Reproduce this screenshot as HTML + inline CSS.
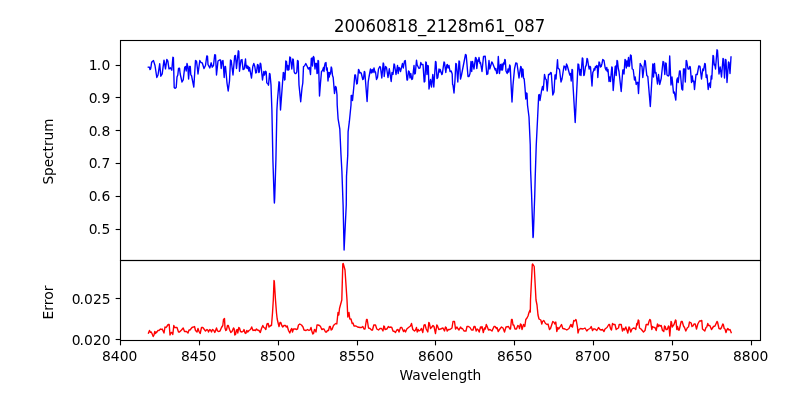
<!DOCTYPE html>
<html><head><meta charset="utf-8"><title>20060818_2128m61_087</title>
<style>
html,body{margin:0;padding:0;background:#fff;}
svg{display:block;}
text{font-family:"DejaVu Sans","Liberation Sans",sans-serif;fill:#000;}
.t{font-size:13.89px;}
.ti{font-size:16.67px;}
.sp{stroke:#000;stroke-width:1.11;fill:none;stroke-linecap:square;}
.tk{stroke:#000;stroke-width:1.11;}
</style></head><body>
<svg width="800" height="400" viewBox="0 0 800 400">
<rect width="800" height="400" fill="#fff"/>
<text class="ti" transform="translate(333.95,32.1) scale(1,1.08)" textLength="211.3" lengthAdjust="spacingAndGlyphs">20060818_2128m61_087</text>
<clipPath id="c1"><rect x="120.5" y="40.5" width="640.0" height="220.0"/></clipPath>
<clipPath id="c2"><rect x="120.5" y="260.5" width="640.0" height="80.0"/></clipPath>
<polyline clip-path="url(#c1)" points="148.30,67.20 149.50,67.30 150.00,69.60 150.60,69.00 151.00,66.80 151.60,62.50 152.30,61.50 153.50,60.60 155.00,65.50 156.80,77.50 158.00,75.00 159.70,63.80 160.80,76.20 162.20,73.80 164.00,60.20 165.50,68.80 166.80,59.50 167.80,60.80 169.00,68.80 170.50,67.80 171.80,70.20 172.90,57.30 173.40,57.60 174.20,87.50 175.00,88.30 176.20,87.50 177.00,77.00 177.80,75.00 178.50,68.50 179.50,68.20 180.20,74.00 182.00,82.00 183.20,80.00 184.70,67.50 185.50,66.50 186.20,71.00 187.00,63.50 187.80,66.50 188.60,79.00 189.50,66.50 190.30,66.50 190.80,75.00 191.50,75.50 193.80,87.00 195.50,60.50 196.50,61.00 197.20,66.50 198.00,74.00 199.80,60.50 201.00,62.50 202.20,62.80 204.00,68.50 205.50,65.50 206.80,56.00 207.50,56.20 208.00,64.50 209.80,68.00 211.20,62.80 212.20,67.20 213.50,65.50 214.70,54.80 215.50,55.00 216.50,75.00 218.00,61.00 219.50,60.00 220.50,60.00 221.20,68.50 222.20,61.00 223.00,60.50 224.20,77.50 225.00,66.50 225.50,66.50 227.00,83.00 228.20,91.00 229.50,81.00 230.50,60.00 231.20,60.50 233.00,75.00 234.70,55.80 235.50,55.50 236.50,68.50 238.30,50.80 238.80,51.50 239.50,71.20 241.00,60.00 242.00,59.50 243.00,69.50 244.20,69.00 245.50,59.00 246.20,68.00 247.00,65.50 247.50,68.50 248.20,66.50 248.80,71.00 249.50,67.50 251.50,78.00 252.80,66.50 253.80,63.50 254.80,66.50 255.80,73.00 256.50,72.50 257.50,64.50 258.20,65.00 258.80,72.50 259.30,72.00 260.20,63.20 260.80,64.00 262.50,80.00 263.80,71.50 264.50,75.00 265.50,71.20 266.20,72.00 266.80,83.00 267.80,83.50 268.50,85.20 269.50,73.50 270.00,74.00 271.00,85.00 271.90,110.00 272.90,160.00 274.20,200.00 274.40,203.00 274.70,198.00 275.90,160.00 276.90,110.00 277.50,100.00 279.00,81.80 279.50,82.50 280.50,110.00 282.00,90.00 283.30,72.50 284.00,73.00 284.50,80.00 285.00,79.50 285.80,61.00 286.50,61.50 287.20,70.00 287.80,65.50 288.50,70.00 289.00,69.50 289.80,57.00 290.50,57.50 291.80,69.00 292.80,59.00 293.30,59.50 294.20,72.00 295.00,73.50 296.00,73.50 296.80,72.00 297.50,60.50 298.20,61.00 299.00,85.00 300.70,101.80 302.00,88.00 302.80,83.00 303.50,66.50 304.50,66.00 305.80,63.50 307.00,66.00 308.30,69.00 309.50,67.50 310.50,74.50 311.30,58.50 312.00,58.00 312.50,66.00 312.90,59.00 313.50,56.50 314.00,57.50 315.00,69.00 315.70,63.50 316.50,63.50 317.00,73.50 317.50,73.00 318.00,60.50 318.50,61.00 319.50,96.00 320.50,83.00 321.50,71.50 322.50,70.50 323.50,67.50 324.00,71.50 324.50,66.50 325.20,63.00 326.00,62.50 326.50,70.00 327.20,68.00 328.00,81.00 328.80,72.50 329.30,77.00 330.00,72.50 330.50,74.00 331.20,67.00 331.70,68.00 332.50,75.50 333.20,77.50 334.50,93.50 335.50,86.50 336.20,87.50 337.00,95.00 337.20,105.00 338.10,118.80 339.80,128.80 341.00,155.00 341.90,171.20 343.10,205.00 344.10,250.00 346.25,205.00 346.50,176.20 347.75,155.00 348.10,131.90 349.40,121.20 351.00,105.00 351.20,95.50 352.00,95.50 352.50,100.50 354.00,85.00 354.80,75.00 355.50,75.00 356.70,84.00 357.30,83.50 358.50,69.50 359.00,70.00 359.80,73.00 360.50,72.50 361.20,73.00 362.80,79.50 363.50,79.00 364.30,71.50 364.80,72.00 367.10,101.50 368.20,82.00 369.00,77.00 370.50,69.00 371.20,73.00 372.20,69.50 373.00,72.50 374.00,68.00 375.00,72.50 375.50,72.00 376.50,79.50 377.50,77.50 378.50,69.00 379.80,66.50 380.50,67.50 381.80,78.00 383.20,63.00 383.70,64.00 384.20,76.50 385.50,66.50 386.50,67.50 388.00,77.50 389.30,68.80 391.20,81.50 392.00,72.50 393.00,74.50 394.00,64.00 394.50,64.50 396.00,74.50 397.50,65.50 398.20,73.50 399.00,67.50 399.70,68.50 400.50,71.50 402.50,63.50 403.30,68.00 404.50,61.00 405.30,60.50 407.00,80.00 407.50,80.00 408.50,71.00 409.20,71.50 410.00,78.00 410.80,73.50 411.80,79.50 412.50,79.00 414.00,65.50 414.70,74.00 415.30,73.50 416.50,60.20 417.20,65.00 419.00,68.50 420.00,68.00 420.80,62.50 421.50,64.50 423.00,64.50 424.20,82.00 424.80,81.50 425.80,62.00 426.30,62.50 427.00,74.50 427.80,65.50 428.30,66.00 429.00,89.00 430.50,79.50 431.50,87.00 432.80,74.50 433.80,87.00 435.50,61.50 436.00,62.00 437.00,78.50 437.80,77.50 439.00,69.00 439.50,72.00 440.20,69.50 441.80,74.50 442.30,74.00 444.00,62.00 444.50,62.50 445.80,72.50 446.80,65.00 447.40,64.50 448.00,68.00 449.00,65.50 450.00,71.50 451.20,71.00 452.20,74.00 452.60,84.50 453.00,85.00 454.00,93.00 455.00,80.00 455.80,63.50 456.40,64.00 457.80,82.00 459.00,61.00 459.50,61.50 460.50,79.00 461.50,75.00 465.50,54.50 466.20,55.00 468.00,76.50 469.00,76.50 470.00,73.50 471.00,61.50 471.70,71.50 472.50,61.50 474.00,69.00 475.50,57.50 476.20,58.00 476.80,68.50 477.80,60.00 478.30,61.50 479.00,57.50 480.00,63.50 480.50,62.50 482.00,71.50 483.50,56.50 485.20,56.20 486.80,74.50 487.80,74.00 489.00,60.50 489.80,69.00 491.80,62.00 492.50,63.00 494.50,68.00 495.20,70.00 495.80,68.50 496.80,73.50 497.50,73.00 498.30,56.50 499.50,73.50 500.50,64.50 501.20,70.00 502.00,64.00 502.50,70.00 503.50,63.00 504.00,64.50 504.80,59.50 505.30,60.00 506.00,71.00 507.20,73.50 508.00,69.00 508.70,72.00 509.70,65.00 510.20,66.00 511.20,87.00 512.00,102.00 513.00,85.00 514.50,69.00 515.80,63.00 517.00,63.50 519.00,78.00 520.00,71.00 520.70,66.50 521.20,67.00 521.80,77.00 522.50,69.00 523.00,69.50 523.50,78.00 524.20,79.00 525.00,88.00 525.80,99.00 526.50,93.00 527.00,93.50 527.50,105.00 529.00,117.00 530.25,145.00 530.60,170.00 531.60,195.00 533.00,237.50 533.30,236.00 534.75,195.00 535.25,176.00 536.25,145.00 537.50,120.00 538.70,95.00 539.30,94.50 540.00,100.50 541.50,91.00 542.50,86.50 543.30,90.00 544.50,74.50 545.50,79.00 546.30,79.50 547.20,91.00 548.50,74.50 549.50,74.50 550.80,72.50 551.30,73.00 552.80,95.00 554.00,92.00 555.00,75.00 555.50,75.00 556.00,79.00 557.50,59.80 558.00,68.00 559.50,69.50 561.00,82.00 562.00,79.00 564.00,66.00 565.00,66.50 565.80,70.00 566.50,64.00 567.20,65.50 569.80,75.00 570.50,73.50 571.20,81.00 572.00,69.50 572.50,70.00 573.00,85.00 575.20,122.50 577.00,85.00 578.00,64.00 578.70,64.50 579.80,75.00 580.20,69.50 581.00,75.50 582.30,58.00 582.80,58.50 583.80,75.50 584.30,75.00 585.50,66.50 586.20,65.50 587.00,58.50 587.50,59.00 588.50,65.50 589.20,69.00 590.00,66.50 590.50,67.00 592.00,86.00 592.80,72.50 593.50,71.00 594.20,68.50 594.80,70.00 595.50,66.50 596.20,67.50 596.80,65.50 597.30,66.00 597.80,77.50 599.00,62.00 599.50,62.50 600.50,67.00 601.20,66.50 602.00,63.50 602.80,59.50 604.00,60.50 605.20,68.00 606.00,70.00 606.80,67.50 607.30,71.50 608.00,69.50 609.00,81.50 609.80,77.00 610.50,81.50 611.80,67.00 612.20,67.50 613.20,90.50 615.20,66.50 615.80,66.00 616.20,75.50 617.00,60.50 617.50,61.00 618.30,68.50 619.00,71.50 621.20,91.50 622.80,70.00 623.50,70.00 624.00,74.00 625.00,59.50 625.50,60.00 626.30,68.00 627.00,61.00 627.50,66.00 628.50,57.50 629.00,66.50 629.50,66.00 630.50,55.00 631.20,55.50 632.20,69.00 633.20,69.50 634.50,80.00 635.20,77.00 636.20,84.50 637.00,82.50 637.80,82.30 638.50,93.50 640.20,63.50 641.50,66.00 642.00,66.50 642.80,77.50 644.80,60.50 645.30,61.00 646.80,75.50 647.80,76.50 650.30,106.50 652.80,64.00 653.20,64.50 653.50,77.00 654.50,63.50 655.20,73.00 656.00,72.50 657.50,84.00 658.50,74.50 659.70,84.50 661.20,78.50 663.00,61.50 663.80,62.00 664.80,74.50 665.70,63.00 666.20,63.50 667.00,75.00 668.20,76.00 669.00,75.00 669.70,56.00 671.00,85.00 672.00,77.00 673.50,93.00 674.30,92.00 675.80,100.00 676.80,80.00 677.50,78.00 678.20,82.50 679.50,71.00 680.20,71.00 681.80,89.00 682.70,90.00 683.50,69.00 684.50,69.00 685.30,82.00 686.20,60.50 686.70,61.00 688.00,69.00 689.00,69.00 689.80,66.50 690.30,67.00 691.50,82.50 692.30,76.00 693.00,81.50 693.80,81.00 694.50,89.50 696.00,74.50 697.20,74.50 698.80,66.00 700.00,66.50 701.50,79.00 702.80,69.00 703.50,70.50 704.80,63.50 705.30,64.00 706.20,77.50 707.00,75.00 708.20,89.50 709.00,84.00 709.80,83.00 710.40,87.50 711.20,76.00 711.80,79.00 713.00,55.50 713.50,56.00 714.20,65.00 714.80,64.50 715.50,69.00 717.00,49.80 717.50,50.50 719.00,74.00 720.20,67.00 721.50,77.00 723.00,58.50 723.50,59.00 724.50,78.00 725.50,59.50 726.00,60.00 727.00,82.50 728.50,62.00 729.00,62.50 730.00,73.50 731.00,57.00" fill="none" stroke="#0000ff" stroke-width="1.39" stroke-linejoin="round" stroke-linecap="square"/>
<polyline clip-path="url(#c2)" points="148.50,333.00 149.50,330.50 150.50,332.50 151.20,332.00 152.00,333.50 153.20,336.50 154.00,335.00 154.80,331.50 155.50,333.50 156.20,332.00 156.70,332.50 157.80,330.50 159.00,330.50 160.50,329.00 161.20,329.50 162.20,329.00 164.00,333.00 165.00,327.00 166.00,327.50 166.80,326.50 168.20,324.50 169.20,324.50 170.00,335.00 171.20,332.50 172.00,332.50 172.80,334.50 173.80,325.50 174.50,327.50 177.00,327.50 178.50,332.00 179.50,332.00 181.50,330.00 183.20,328.00 184.50,331.50 186.50,331.50 188.00,333.00 189.00,330.00 190.00,330.00 192.00,327.50 193.50,327.00 194.50,326.50 195.50,330.50 197.00,332.00 198.00,328.50 199.00,331.50 200.20,333.50 201.50,327.50 202.80,327.50 205.50,331.00 207.00,329.50 207.80,330.00 208.50,332.00 209.80,329.50 210.50,330.00 211.50,332.00 212.50,329.50 213.50,330.00 214.80,332.50 216.50,328.00 217.50,331.00 218.50,331.50 220.00,331.00 221.50,327.50 222.80,325.50 223.50,319.50 224.50,318.50 225.00,328.00 225.80,330.50 226.50,330.00 227.50,325.50 228.30,325.50 229.50,329.50 230.80,332.50 232.00,331.50 233.50,328.00 234.20,329.00 234.80,335.00 235.50,334.50 236.50,330.00 237.20,329.50 237.80,333.00 238.80,327.50 239.50,328.00 240.50,331.50 242.00,332.00 243.00,331.50 244.00,329.50 245.00,333.00 245.80,333.50 246.80,330.50 247.80,332.00 249.00,330.50 250.50,329.50 251.70,327.00 253.00,330.50 254.00,330.00 255.50,330.50 256.50,329.00 257.50,330.00 259.00,330.50 260.30,332.50 261.50,328.50 262.80,325.50 263.80,327.50 264.80,328.00 265.80,329.50 267.00,324.00 268.20,323.50 269.00,327.00 269.80,326.50 270.50,325.50 271.50,325.50 272.50,313.00 273.30,300.00 274.00,280.50 274.30,281.00 275.50,300.00 276.50,313.00 277.20,319.00 278.00,322.50 279.00,326.50 280.00,322.50 280.80,322.50 281.80,325.50 282.80,327.00 284.00,325.50 285.50,325.50 286.20,327.00 287.20,326.00 288.50,330.50 289.80,333.00 290.80,330.00 291.80,328.50 292.50,332.00 293.50,329.00 295.50,329.00 296.80,329.50 297.50,329.00 298.50,325.00 299.80,324.00 301.50,325.00 303.00,327.00 304.00,330.00 306.00,330.50 307.50,329.50 309.00,330.50 310.00,330.00 311.00,327.50 311.80,331.00 312.80,334.00 313.50,333.50 314.50,329.50 315.20,330.00 316.00,332.00 317.00,325.00 318.00,325.00 319.50,325.50 320.50,326.50 321.80,329.50 323.00,329.00 324.00,329.00 325.50,332.00 326.50,332.00 327.50,330.50 328.50,330.50 329.50,326.50 330.30,326.50 331.20,330.00 332.00,329.50 333.50,325.50 334.50,324.50 335.80,323.50 336.80,324.00 338.00,312.50 338.80,315.00 339.50,308.50 341.80,300.00 342.80,264.00 343.20,263.50 345.00,270.00 347.00,300.00 347.80,317.00 349.00,312.50 349.80,319.00 351.00,319.00 352.20,323.50 353.00,323.00 354.00,326.00 356.00,326.00 357.50,327.00 360.00,327.50 361.50,327.50 362.80,326.50 364.00,329.00 365.00,329.00 366.50,319.50 367.20,319.50 368.50,328.00 370.00,328.50 371.50,330.00 372.50,330.00 373.80,325.00 375.50,325.00 376.80,329.00 378.50,330.00 380.00,328.50 381.50,328.50 383.00,331.00 383.80,326.00 384.50,326.50 385.00,329.50 386.80,329.00 388.50,326.50 389.50,327.50 390.50,327.00 391.80,327.50 393.00,331.00 394.50,331.50 395.50,332.50 396.80,330.00 398.00,329.50 399.00,332.00 400.50,327.50 401.80,327.50 403.50,331.50 404.50,330.00 405.50,332.00 406.80,329.00 408.50,327.50 410.50,326.00 411.50,323.50 412.80,329.50 414.50,331.00 415.50,330.00 416.50,327.50 417.20,332.00 418.20,329.50 419.00,331.00 420.50,330.00 421.50,328.50 422.80,332.50 424.00,325.00 425.00,324.50 426.20,329.00 427.80,332.00 428.80,322.50 429.30,323.00 430.50,328.50 431.50,327.50 433.00,325.50 434.00,326.50 435.50,333.50 436.80,325.00 437.50,326.00 438.80,329.50 440.50,329.00 443.00,328.00 444.50,331.00 445.50,327.00 446.20,327.50 447.20,331.00 448.50,329.50 450.00,329.50 452.00,328.00 453.00,321.50 454.50,321.50 455.50,329.00 457.00,327.00 457.80,328.50 459.00,330.00 460.50,327.00 461.50,328.50 462.50,328.50 464.00,331.00 466.00,331.00 467.00,326.50 468.50,326.50 470.00,327.50 471.50,330.00 473.00,330.00 474.00,326.50 475.00,326.50 476.20,331.00 477.20,329.00 478.00,329.50 479.20,332.00 480.50,327.00 481.20,328.00 482.00,326.50 483.30,332.50 484.50,328.00 485.30,329.00 486.30,324.50 487.00,326.00 488.50,330.00 490.00,329.50 492.00,331.00 494.00,326.50 495.00,326.50 496.50,328.50 497.00,327.50 498.20,331.50 499.50,329.50 501.50,327.00 503.00,328.00 504.50,332.00 506.00,327.00 508.50,326.50 509.80,329.00 510.50,329.00 511.50,319.50 512.20,319.50 513.00,325.00 513.80,325.00 515.00,329.00 516.50,329.00 517.80,325.50 518.80,326.00 519.50,328.50 520.50,324.00 521.20,324.50 522.00,329.50 523.50,324.50 524.80,326.50 525.80,319.50 527.00,318.00 528.00,316.00 529.00,312.50 530.00,310.00 530.30,312.00 530.50,300.00 532.30,264.50 532.70,264.00 534.20,266.50 536.00,300.00 537.00,305.00 538.00,315.00 539.00,319.00 540.80,320.00 541.80,324.00 542.50,321.50 543.80,320.50 545.50,323.50 547.00,324.50 548.00,324.00 549.50,329.50 550.50,328.50 552.80,321.50 553.80,322.00 554.80,324.00 555.80,322.00 556.80,331.50 557.80,327.50 558.80,329.00 560.00,327.00 561.50,324.50 562.80,328.50 565.00,329.00 566.80,330.00 569.00,328.50 570.80,324.50 571.50,326.50 572.00,325.00 572.50,327.00 573.80,320.50 574.80,321.00 575.70,319.50 576.20,320.00 577.50,327.50 578.00,333.00 579.00,329.50 580.50,328.50 583.00,329.00 585.00,328.00 586.80,331.00 588.00,329.50 590.00,328.50 591.20,326.50 592.50,330.50 593.50,329.00 595.00,329.00 596.80,330.50 598.50,327.50 600.00,329.50 601.20,330.00 602.50,329.50 604.00,331.50 605.00,329.00 607.00,327.50 608.80,324.50 609.50,324.50 610.50,328.50 611.50,330.00 612.50,323.50 613.50,324.50 615.00,324.50 616.20,329.50 617.50,328.50 618.50,328.00 619.20,324.50 621.20,324.50 622.50,331.00 623.50,328.50 624.50,330.00 625.80,327.00 626.50,329.00 627.80,333.00 629.00,327.00 629.50,327.50 630.80,332.00 632.00,329.00 633.50,328.00 635.00,328.50 635.80,329.50 636.80,323.50 637.30,325.00 638.20,320.00 638.80,320.50 639.50,328.00 641.00,329.00 643.50,332.00 645.00,330.50 646.20,324.50 647.20,324.50 648.00,325.00 649.00,321.50 649.80,319.50 650.50,320.00 651.80,329.50 652.50,326.50 654.00,327.50 655.00,327.50 656.20,330.50 657.50,324.00 658.30,326.50 659.00,325.00 660.00,326.00 661.20,325.50 662.50,330.50 663.80,331.50 664.50,326.00 665.20,326.50 666.00,329.50 667.20,329.50 668.50,326.00 669.00,326.50 669.80,336.00 671.00,321.50 671.50,322.00 672.20,327.00 674.00,324.50 675.50,320.00 676.00,320.50 676.80,329.50 677.50,326.50 678.50,330.00 679.20,330.00 681.20,321.50 682.20,321.50 683.50,326.00 684.50,327.50 685.80,331.00 687.50,327.50 688.50,327.00 689.50,322.00 691.20,323.00 692.00,326.50 693.00,326.00 694.00,324.00 695.20,324.00 696.50,329.00 697.80,324.00 699.50,321.00 700.50,321.00 701.80,320.50 702.50,329.00 704.80,331.00 706.00,327.50 706.80,327.00 707.80,323.50 708.50,325.50 709.80,325.50 711.50,329.50 713.50,326.50 715.00,326.00 717.00,321.50 717.50,322.00 719.00,328.50 720.50,329.00 721.50,327.50 722.80,324.00 723.30,324.50 724.20,328.50 725.00,329.00 726.00,332.50 726.80,330.00 727.80,328.50 729.00,330.00 730.00,329.50 731.20,332.50" fill="none" stroke="#ff0000" stroke-width="1.39" stroke-linejoin="round" stroke-linecap="square"/>
<line class="tk" x1="120.5" y1="340.5" x2="120.5" y2="345.36"/><text class="t" x="119.7" y="360.5" text-anchor="middle">8400</text>
<line class="tk" x1="199.5" y1="340.5" x2="199.5" y2="345.36"/><text class="t" x="198.7" y="360.5" text-anchor="middle">8450</text>
<line class="tk" x1="278.5" y1="340.5" x2="278.5" y2="345.36"/><text class="t" x="277.7" y="360.5" text-anchor="middle">8500</text>
<line class="tk" x1="357.5" y1="340.5" x2="357.5" y2="345.36"/><text class="t" x="356.7" y="360.5" text-anchor="middle">8550</text>
<line class="tk" x1="435.5" y1="340.5" x2="435.5" y2="345.36"/><text class="t" x="435.7" y="360.5" text-anchor="middle">8600</text>
<line class="tk" x1="514.5" y1="340.5" x2="514.5" y2="345.36"/><text class="t" x="514.7" y="360.5" text-anchor="middle">8650</text>
<line class="tk" x1="593.5" y1="340.5" x2="593.5" y2="345.36"/><text class="t" x="592.7" y="360.5" text-anchor="middle">8700</text>
<line class="tk" x1="672.5" y1="340.5" x2="672.5" y2="345.36"/><text class="t" x="671.7" y="360.5" text-anchor="middle">8750</text>
<line class="tk" x1="751.5" y1="340.5" x2="751.5" y2="345.36"/><text class="t" x="750.7" y="360.5" text-anchor="middle">8800</text>
<line class="tk" x1="120.5" y1="65.5" x2="115.64" y2="65.5"/><text class="t" x="88.7 96.65 101.4" y="69.8">1.0</text>
<line class="tk" x1="120.5" y1="97.5" x2="115.64" y2="97.5"/><text class="t" x="88.7 96.65 101.4" y="102.8">0.9</text>
<line class="tk" x1="120.5" y1="130.5" x2="115.64" y2="130.5"/><text class="t" x="88.7 96.65 101.4" y="135.8">0.8</text>
<line class="tk" x1="120.5" y1="163.5" x2="115.64" y2="163.5"/><text class="t" x="88.7 96.65 101.4" y="167.8">0.7</text>
<line class="tk" x1="120.5" y1="196.5" x2="115.64" y2="196.5"/><text class="t" x="88.7 96.65 101.4" y="200.8">0.6</text>
<line class="tk" x1="120.5" y1="229.5" x2="115.64" y2="229.5"/><text class="t" x="88.7 96.65 101.4" y="233.8">0.5</text>
<line class="tk" x1="120.5" y1="298.5" x2="115.64" y2="298.5"/><text class="t" x="71.8 79.4 84.0 92.9 101.7" y="303.8">0.025</text>
<line class="tk" x1="120.5" y1="339.5" x2="115.64" y2="339.5"/><text class="t" x="71.8 79.4 84.0 92.9 101.7" y="344.8">0.020</text>
<rect class="sp" x="120.5" y="40.5" width="640.0" height="220.0"/>
<rect class="sp" x="120.5" y="260.5" width="640.0" height="80.0"/>
<text class="t" x="440.4" y="380" text-anchor="middle" textLength="81.9" lengthAdjust="spacingAndGlyphs">Wavelength</text>
<text class="t" transform="translate(52.5,151.6) rotate(-90)" text-anchor="middle" textLength="66.0" lengthAdjust="spacingAndGlyphs">Spectrum</text>
<text class="t" transform="translate(52.5,302.5) rotate(-90)" text-anchor="middle">Error</text>
</svg>
</body></html>
